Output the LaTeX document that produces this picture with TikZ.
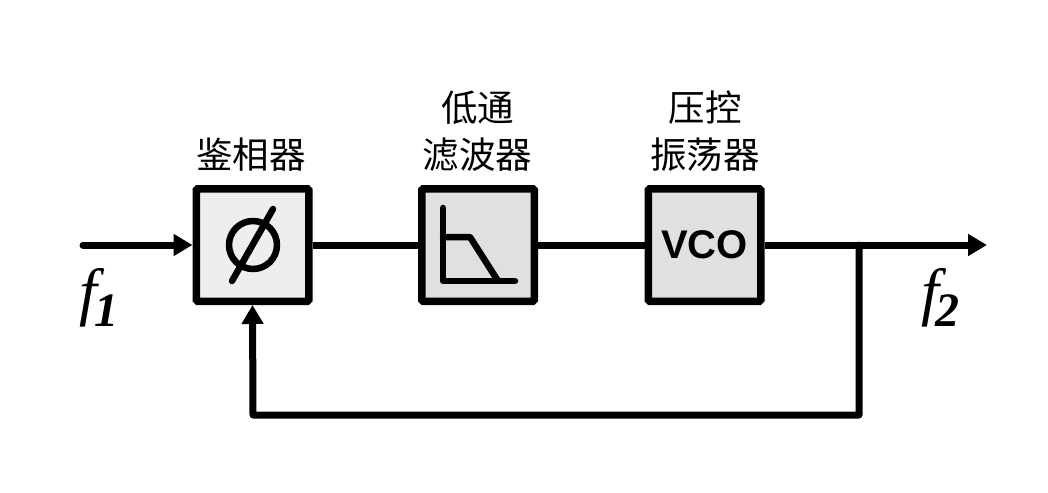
\documentclass[tikz,border=0pt]{standalone}
\usepackage{fontspec}
\setmainfont{Liberation Serif}
\newfontfamily\cjk{Noto Sans CJK SC}
\newfontfamily\vcofont{Liberation Sans}
\usetikzlibrary{arrows.meta}
\definecolor{boxlight}{HTML}{EEEEEE}
\definecolor{boxgray}{HTML}{E0E0E0}
\tikzset{
  block/.style={draw=black,line width=7.5pt,rounded corners=1.5pt,minimum width=112.5pt,minimum height=112.5pt,inner sep=0pt},
  wire/.style={line width=7pt,draw=black,line cap=round,line join=round},
  arrowed/.style={wire,-{Triangle[length=19pt,width=21pt,sharp]}},
  glyph/.style={line width=6.5pt,draw=black,line cap=round,line join=round},
  caption/.style={font=\cjk\fontsize{36.5}{47}\selectfont,align=center,inner sep=0pt,text=black},
  freq/.style={font=\itshape\fontsize{64}{64}\selectfont,inner sep=0pt,anchor=base west,text=black},
  vco/.style={font=\vcofont\bfseries\fontsize{40}{40}\selectfont,inner sep=0pt,text=black},
}
\newcommand{\subdigit}[2]{\kern#1pt\raisebox{-13pt}{\fontsize{48}{48}\selectfont #2}}
\begin{document}
\begin{tikzpicture}[x=1pt,y=-1pt]
\useasboundingbox (0,0) rectangle (1048,492);
\node[block,fill=boxlight] (pd) at (252.5,245) {};
\node[block,fill=boxgray] (lpf) at (478,245) {};
\node[block,fill=boxgray] (osc) at (704.5,245) {};
\coordinate (in) at (83,245);
\coordinate (out) at (987,245);
\coordinate (branch) at (859,245);
\coordinate (corner) at (859,415);
\coordinate (corner2) at (253,415);
\draw[arrowed] (in) -- (pd.west);
\draw[wire,line cap=butt] (pd.east) -- (lpf.west);
\draw[wire,line cap=butt] (lpf.east) -- (osc.west);
\draw[arrowed,line cap=butt] (osc.east) -- (out);
\draw[arrowed] (branch) -- (corner) -- (corner2) -- (pd.south);
% phase symbol
\coordinate (phi) at (253,245);
\draw[glyph] (phi) circle (24pt);
\coordinate (s1) at (232,281);
\coordinate (s2) at (273,209);
\draw[glyph] (s1) -- (s2);
% low-pass symbol
\coordinate (a1) at (443,208);
\coordinate (a2) at (443,281);
\coordinate (a3) at (515,281);
\coordinate (b1) at (443,237);
\coordinate (b2) at (470,237);
\coordinate (b3) at (498,281);
\draw[glyph] (a1) -- (a2) -- (a3);
\draw[glyph] (b1) -- (b2) -- (b3);
\node[vco] (vcolabel) at (704.5,245) {VCO};
\node[caption] (pdlabel) at (251,155) {鉴相器};
\node[caption] (lpflabel) at (477.5,131.5) {低通\\滤波器};
\node[caption] (osclabel) at (705,131.5) {压控\\振荡器};
\node[freq] (f1) at (79,313) {f\subdigit{-2}{\bfseries 1}};
\node[freq] (f2) at (921,313) {f\subdigit{-3}{\bfseries 2}};
\end{tikzpicture}
\end{document}
